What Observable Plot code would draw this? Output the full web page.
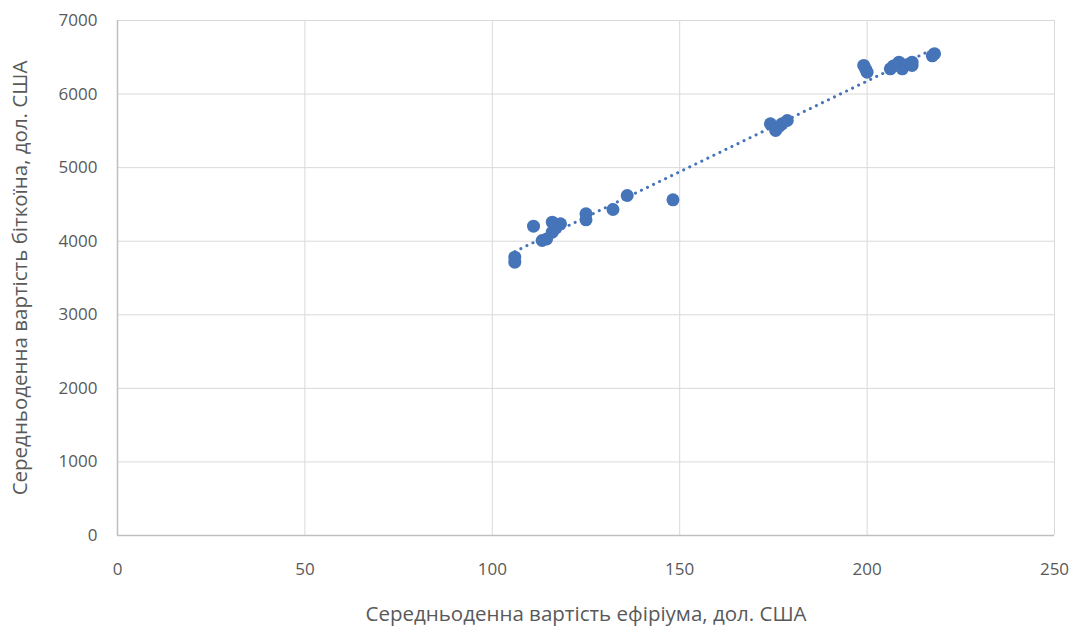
<!DOCTYPE html>
<html>
<head>
<meta charset="utf-8">
<script src="https://cdn.jsdelivr.net/npm/d3@7"></script>
<script src="https://cdn.jsdelivr.net/npm/@observablehq/plot@0.6"></script>
<style>
  html, body { margin: 0; padding: 0; background: #fff; }
  #chart { width: 1075px; height: 627px; }
</style>
</head>
<body>
<div id="chart"></div>
<script>
const ethereum = [106, 106, 111, 113.3, 114.5, 116, 116, 117, 118.2, 125, 125, 132.2, 136, 148.2,
  174.2, 175.6, 176.5, 177.3, 178.7, 199.1, 199.6, 200, 206.2, 207, 208.5, 209.4, 210.5, 212, 212, 217.4, 218];
const bitcoin = [3783, 3715, 4204, 4010, 4030, 4259, 4123, 4180, 4237, 4372, 4291, 4431, 4621, 4563,
  5596, 5505, 5560, 5596, 5641, 6389, 6340, 6298, 6343, 6380, 6433, 6343, 6400, 6433, 6390, 6520, 6548];
const xTicks = [0, 50, 100, 150, 200, 250];
const yTicks = [0, 1000, 2000, 3000, 4000, 5000, 6000, 7000];
const xTitle = "Середньоденна вартість ефіріума, дол. США";
const yTitle = "Середньоденна вартість біткоїна, дол. США";

const data = ethereum.map((e, i) => ({eth: e, btc: bitcoin[i]}));
const blue = "#4674b9";
const textGray = "#595959";

const chart = Plot.plot({
  width: 1075,
  height: 627,
  marginLeft: 117,
  marginRight: 21,
  marginTop: 20,
  marginBottom: 92,
  style: {fontFamily: "'Open Sans', sans-serif", fontSize: "17px", color: textGray, background: "#fff"},
  x: {domain: [0, 250]},
  y: {domain: [0, 7000]},
  marks: [
    Plot.gridX(xTicks, {stroke: "#d9d9d9", strokeOpacity: 1, strokeWidth: 1}),
    Plot.gridY(yTicks, {stroke: "#d9d9d9", strokeOpacity: 1, strokeWidth: 1}),
    Plot.ruleX([0], {stroke: "#bfbfbf", strokeWidth: 1.5}),
    Plot.ruleY([0], {stroke: "#bfbfbf", strokeWidth: 1.5}),
    Plot.axisX(xTicks, {tickSize: 0, tickPadding: 27, fontSize: 17, fill: textGray, label: null, tickFormat: d => String(d)}),
    Plot.axisY(yTicks, {tickSize: 0, tickPadding: 20, fontSize: 17, fill: textGray, label: null, tickFormat: d => String(d)}),
    Plot.text([xTitle], {frameAnchor: "bottom", dy: 85, fontSize: 20.5, fill: textGray, textAnchor: "middle", text: d => d}),
    Plot.text([yTitle], {frameAnchor: "left", dx: -97, rotate: -90, fontSize: 20.5, fill: textGray, textAnchor: "middle", text: d => d}),
    Plot.dot(data, {x: "eth", y: "btc", r: 6.5, fill: blue, stroke: "none"}),
    Plot.linearRegressionY(data, {x: "eth", y: "btc", ci: 0, stroke: blue, strokeWidth: 3, strokeDasharray: "0.1 6.6", strokeLinecap: "round"})
  ]
});
document.getElementById("chart").appendChild(chart);
</script>
</body>
</html>
